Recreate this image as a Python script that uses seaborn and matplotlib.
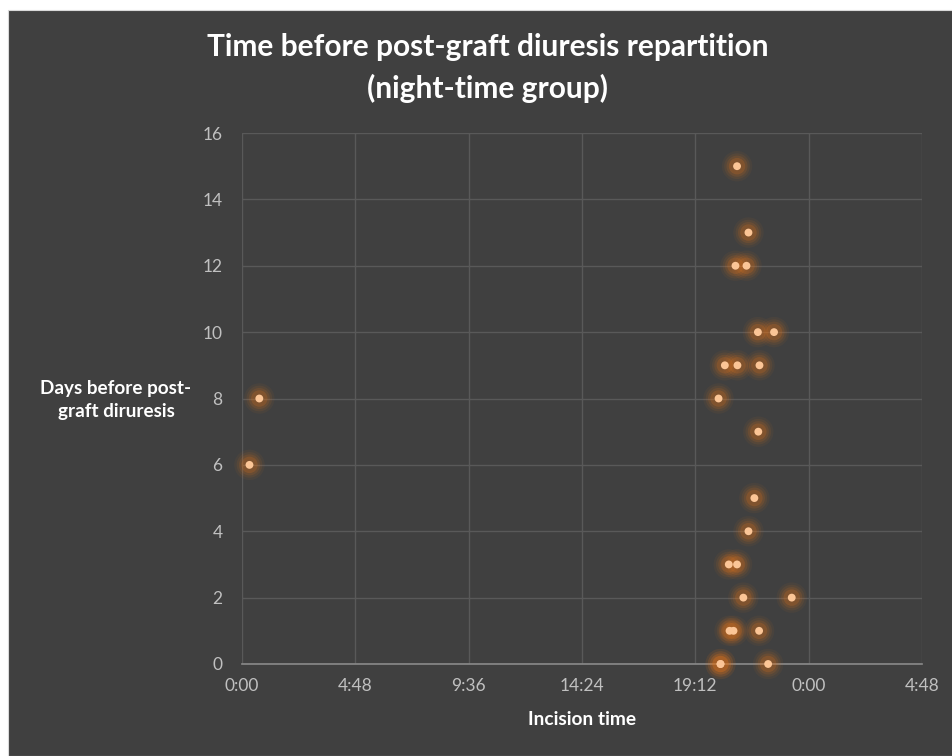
import matplotlib
matplotlib.use("Agg")
import matplotlib.pyplot as plt
import seaborn as sns
import pandas as pd
from matplotlib.patches import Rectangle
from matplotlib.ticker import FixedLocator, FixedFormatter

# ---- data ----
incision_times = ["20:58", "21:27", "20:54", "21:22", "21:51", "22:32",
                  "20:27", "20:59", "21:55", "20:11", "21:52", "21:42",
                  "21:27", "20:37", "20:58", "21:14", "23:17", "20:39",
                  "20:49", "21:54", "20:16", "20:16", "22:17", "0:44", "0:19"]
days_before = [15, 13, 12, 12, 10, 10,
               9, 9, 9, 8, 7, 5,
               4, 3, 3, 2, 2, 1,
               1, 1, 0, 0, 0, 8, 6]
x_ticks_days = [0, 0.2, 0.4, 0.6, 0.8, 1.0, 1.2]
x_tick_labels = ["0:00", "4:48", "9:36", "14:24", "19:12", "0:00", "4:48"]
y_ticks = [0, 2, 4, 6, 8, 10, 12, 14, 16]

def to_day_fraction(t):
    h, m = t.split(":")
    return (int(h) * 60 + int(m)) / 1440.0

df = pd.DataFrame({"time": [to_day_fraction(t) for t in incision_times],
                   "days": days_before})

BG = "#404040"
sns.set_theme(style="dark")
plt.rcParams["font.family"] = ["Lato", "DejaVu Sans"]

fig = plt.figure(figsize=(9.53, 7.56), dpi=100, facecolor="white")
fig.add_artist(Rectangle((8 / 953, 0), 1 - 8 / 953, 1 - 10 / 756,
                         transform=fig.transFigure, facecolor=BG,
                         edgecolor="#d9d9d9", linewidth=0.8, zorder=0))
ax = fig.add_axes([242 / 953, 1 - 664 / 756, (922 - 242) / 953, (664 - 133) / 756])
ax.set_facecolor(BG)

# glow layers
for s, a in [(480, 0.06), (340, 0.09), (230, 0.13), (140, 0.2)]:
    sns.scatterplot(data=df, x="time", y="days", ax=ax, s=s, color="#e3741a",
                    alpha=a, edgecolor="none", linewidth=0, legend=False,
                    zorder=3, clip_on=False)
sns.scatterplot(data=df, x="time", y="days", ax=ax, s=32, color="#fbc596",
                edgecolor="none", linewidth=0, legend=False, zorder=4, clip_on=False)

ax.set_xlim(0, 1.2)
ax.set_ylim(0, 16)
ax.xaxis.set_major_locator(FixedLocator(x_ticks_days))
ax.xaxis.set_major_formatter(FixedFormatter(x_tick_labels))
ax.set_yticks(y_ticks)
ax.grid(True, color="#595959", linewidth=1)
ax.set_axisbelow(True)
for side in ["top", "right", "left"]:
    ax.spines[side].set_visible(False)
ax.spines["bottom"].set_color("#8a8a8a")
ax.spines["bottom"].set_linewidth(1.2)
ax.spines["bottom"].set_zorder(2)
ax.tick_params(axis="both", length=0, colors="#bfbfbf", labelsize=12.5, pad=10)
for lab in ax.get_xticklabels() + ax.get_yticklabels():
    lab.set_color("#c0c0c0")
ax.tick_params(axis="y", pad=14)

ax.set_xlabel("Incision time", color="white", fontsize=13.8, fontweight="bold", labelpad=12)
ax.set_ylabel("")
fig.text(116 / 953, 1 - 400 / 756, "Days before post-\ngraft diruresis", color="white",
         fontsize=13.6, fontweight="bold", ha="center", va="center", linespacing=1.4)
fig.text(488 / 953, 1 - 68 / 756, "Time before post-graft diuresis repartition\n(night-time group)",
         color="white", fontsize=21.5, fontweight="bold", ha="center", va="center",
         linespacing=1.5)

fig.savefig("out.png", dpi=100, facecolor="white")
